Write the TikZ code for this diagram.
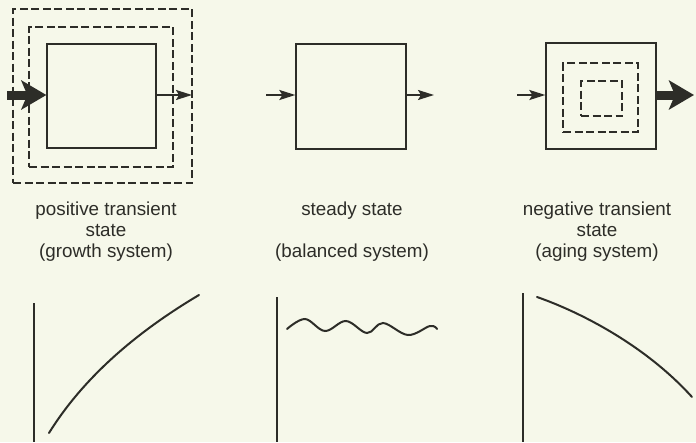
\documentclass[tikz,border=0pt]{standalone}
\usepackage{fontspec}
\setmainfont{Liberation Sans}
\usetikzlibrary{arrows.meta}
\definecolor{paper}{RGB}{246,248,234}
\definecolor{ink}{RGB}{45,45,40}
\begin{document}
\begin{tikzpicture}[x=1pt,y=-1pt,
  every node/.style={text=ink},
  boxs/.style={draw=ink, line width=1.3pt, inner sep=0pt},
  dbox/.style={boxs, dash pattern=on 8pt off 3.5pt},
  thinarr/.style={draw=ink, line width=1.8pt, -{Stealth[length=16pt,width=10pt,inset=3pt]}},
  bigarr/.style={draw=ink, line width=9pt, -{Stealth[length=25pt,width=29pt,inset=6pt]}},
  lbl/.style={font=\fontsize{18.8}{21}\selectfont, align=center, inner sep=0pt, anchor=north},
  axis/.style={draw=ink, line width=1.2pt},
  crv/.style={draw=ink, line width=2pt, line cap=round}]
\fill[paper] (0,0) rectangle (696,442);
\useasboundingbox (0,0) rectangle (696,442);

% panel 1
\node[dbox, minimum width=179pt, minimum height=174pt] (o1) at (102.5,96) {};
\node[dbox, minimum width=144pt, minimum height=140pt] (m1) at (101,97) {};
\node[boxs, minimum width=109pt, minimum height=104pt] (b1) at (101.5,96) {};
\coordinate (in1) at (7,95);
\coordinate (out1) at (192,95);
\draw[bigarr] (in1) -- (b1.west |- in1);
\draw[thinarr] (b1.east |- out1) -- (out1);

% panel 2
\node[boxs, minimum width=110pt, minimum height=105pt] (b2) at (351,96.5) {};
\coordinate (in2) at (266,95);
\coordinate (out2) at (434,95);
\draw[thinarr] (in2) -- (b2.west |- in2);
\draw[thinarr] (b2.east |- out2) -- (out2);

% panel 3
\node[boxs, minimum width=110pt, minimum height=106pt] (b3) at (601,96) {};
\node[dbox, minimum width=75pt, minimum height=69pt] (m3) at (600.5,97.5) {};
\node[dbox, minimum width=41pt, minimum height=35pt] (i3) at (601.5,98.5) {};
\coordinate (in3) at (517,95);
\coordinate (out3) at (694,95);
\draw[thinarr] (in3) -- (b3.west |- in3);
\draw[bigarr] (b3.east |- out3) -- (out3);

% labels
\node[lbl] (t1) at (106,202) {positive transient\\state\\(growth system)};
\node[lbl] (t2) at (352,202) {steady state\\\strut\\(balanced system)};
\node[lbl] (t3) at (597,202) {negative transient\\state\\(aging system)};

% graphs
\coordinate (a1t) at (34,303); \coordinate (a1b) at (34,442);
\draw[axis] (a1t) -- (a1b);
\coordinate (c1s) at (49,433); \coordinate (c1e) at (199,295);
\draw[crv] (c1s) .. controls (85,375) and (140,330) .. (c1e);

\coordinate (a2t) at (277,297); \coordinate (a2b) at (277,442);
\draw[axis] (a2t) -- (a2b);
\draw[crv] plot[smooth, tension=0.6] coordinates {(287,329) (305,319) (325,331) (346,321) (367,333) (383,323) (408,335) (430,326) (437,329)};

\coordinate (a3t) at (523,293); \coordinate (a3b) at (523,442);
\draw[axis] (a3t) -- (a3b);
\coordinate (c3s) at (537,297); \coordinate (c3e) at (692,397);
\draw[crv] (c3s) .. controls (580,312) and (645,345) .. (c3e);
\end{tikzpicture}
\end{document}
